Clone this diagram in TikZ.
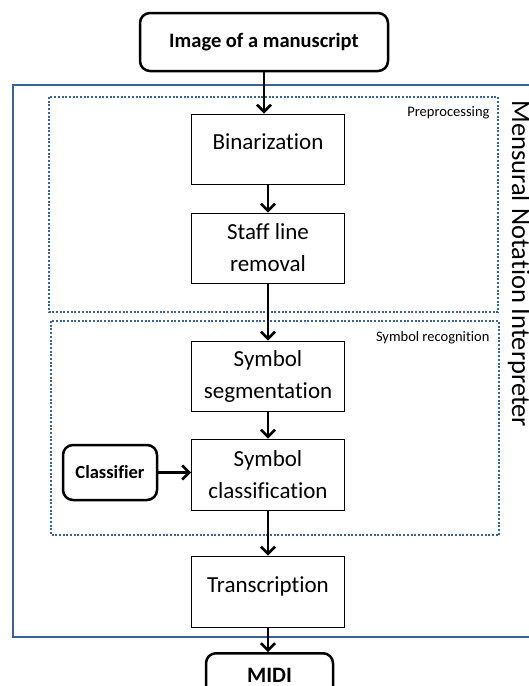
\documentclass[tikz,border=0pt]{standalone}
\usepackage{fontspec}
\setmainfont{Carlito}[Ligatures=CommonOff]
\usetikzlibrary{arrows.meta}
\usetikzlibrary{calc, backgrounds}
\definecolor{frameblue}{RGB}{60,98,146}

\tikzset{
  stepbox/.style={draw, line width=0.9pt, minimum width=153pt, minimum height=70pt,
    align=center, inner sep=0pt, font=\fontsize{23}{32}\selectfont},
  oneline/.style={text depth=14pt},
  endbox/.style={draw, line width=2.5pt, rounded corners=10pt, align=center},
  flow/.style={line width=2.6pt, -{Straight Barb[length=7pt,width=14pt]}},
  group/.style={frameblue, line width=2pt, dash pattern=on 2pt off 1.7pt},
  grouplabel/.style={anchor=east, font=\fontsize{14.5}{16}\selectfont}
}

\begin{document}
\begin{tikzpicture}[x=1pt,y=-1pt]
    \useasboundingbox (0,0) rectangle (529,686);
    \clip (0,0) rectangle (529,686);
    % interpreter frame and the two stages
    \draw[frameblue, line width=2.5pt] (13,85) rectangle (560,637);
    \draw[group] (49,97) rectangle (498,312);
    \draw[group] (51,321) rectangle (499,535);
    \node[grouplabel] (prelabel) at (493,113) {Preprocessing};
    \node[grouplabel] (reclabel) at (493,338) {Symbol recognition};
    \node[rotate=-90, anchor=base west, font=\fontsize{26.5}{30}\selectfont]
      (title) at (512,97) {Mensural Notation Interpreter};

    % input and output
    \node[endbox, minimum width=248pt, minimum height=58pt,
      font=\fontsize{20.5}{24}\selectfont\bfseries] (img) at (264,42) {Image of a manuscript};
    \node[endbox, anchor=north, minimum width=127pt, minimum height=44pt,
      font=\fontsize{22}{26}\selectfont\bfseries] (midi) at (269.5,652) {MIDI};
    \node[endbox, minimum width=94pt, minimum height=55pt,
      font=\fontsize{18.5}{22}\selectfont\bfseries] (classifier) at (110,472.5) {Classifier};

    % the steps
    \node[stepbox, oneline] (bin) at (268,149) {Binarization};
    \node[stepbox] (staff) at (268,248) {Staff line\\removal};
    \node[stepbox] (seg) at (268,376) {Symbol\\segmentation};
    \node[stepbox, minimum height=71pt] (cls) at (268,474.5) {Symbol\\classification};
    \node[stepbox, oneline, minimum height=71pt] (trans) at (268,591.5) {Transcription};

    % do the arrows
    \draw[flow] (img.south) -- (img.south |- bin.north);
    \draw[flow] (bin) -- (staff);
    \draw[flow] (staff) -- (seg);
    \draw[flow] (seg) -- (cls);
    \draw[flow] (cls) -- (trans);
    \draw[flow] (trans.south) -- (trans.south |- midi.north);
    \draw[flow] (classifier.east) -- (classifier.east -| cls.west);
\end{tikzpicture}
\end{document}
